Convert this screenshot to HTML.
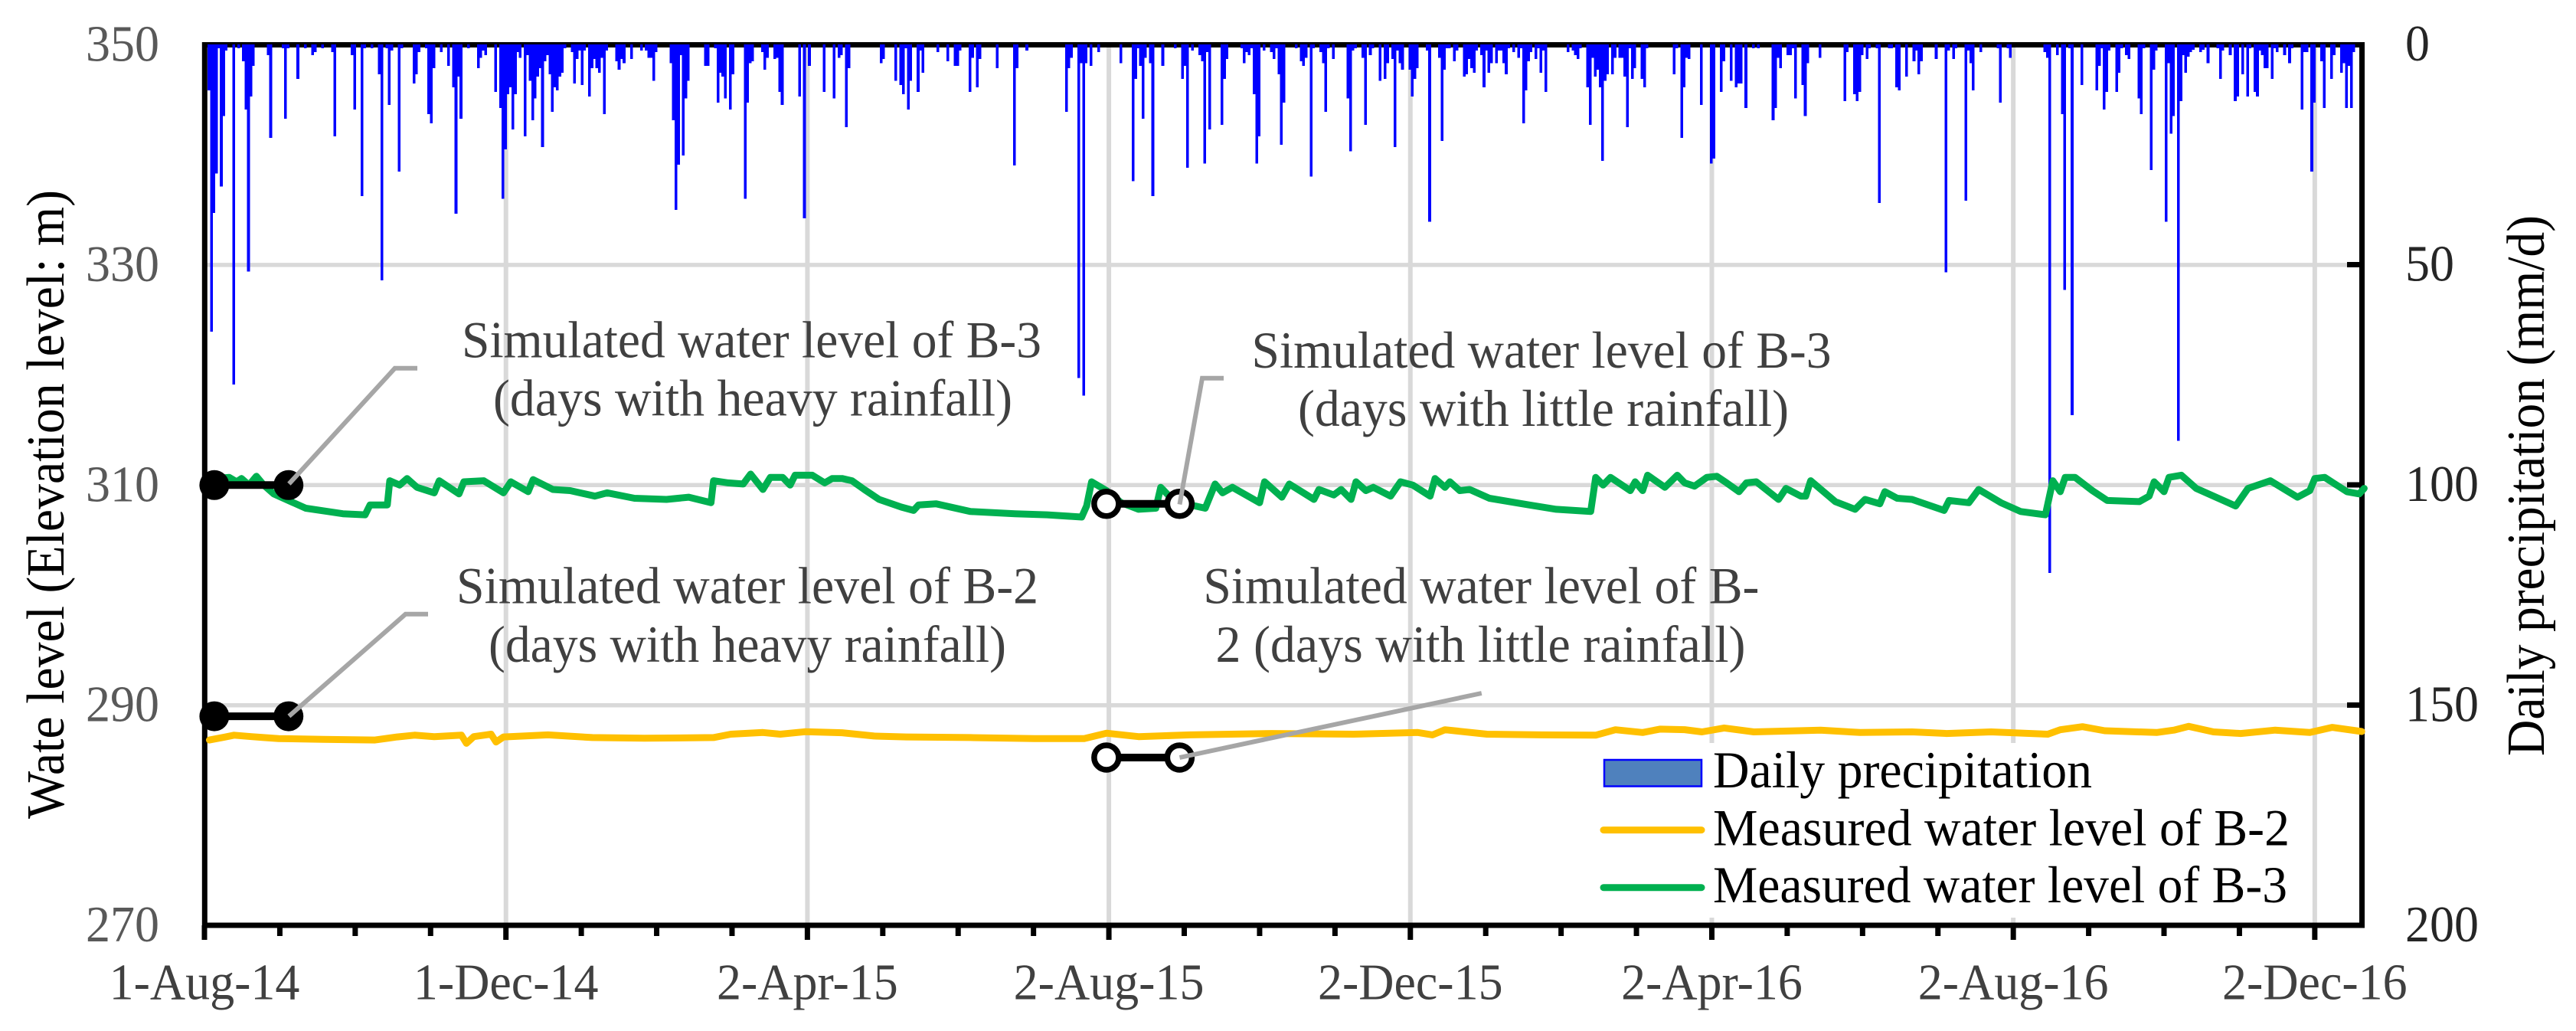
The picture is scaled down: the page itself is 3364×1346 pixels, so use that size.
<!DOCTYPE html>
<html lang="en">
<head>
<meta charset="utf-8">
<title>Water level and daily precipitation</title>
<style>
html,body{margin:0;padding:0;background:#fff;}
svg{display:block;}
text{font-family:"Liberation Serif",serif;}
</style>
</head>
<body>
<svg id="chart" xmlns="http://www.w3.org/2000/svg" width="3364" height="1346" viewBox="0 0 3364 1346">
  <rect x="0" y="0" width="3364" height="1346" fill="#ffffff"/>
  <g id="grid"></g>
  <rect x="2080" y="970" width="935" height="228" fill="#ffffff"/>
  <g id="axes"></g>
  <g id="bars" shape-rendering="crispEdges"></g>
  <g id="lines"></g>
  <g id="markers"></g>
  <g fill="none" stroke="#A6A6A6" stroke-width="6">
    <polyline points="377.4,631.7 515.6,480.8 545,480.8"/>
    <polyline points="377.4,935 529.6,801.8 559,801.8"/>
    <polyline points="1540.5,658.5 1570,493.7 1598,493.7"/>
    <polyline points="1540.5,989 1934.8,905"/>
  </g>
  <g font-size="67.5" fill="#404040">
    <text x="603" y="466.5" textLength="757" lengthAdjust="spacingAndGlyphs">Simulated water level of B-3</text>
    <text x="644" y="542.5" textLength="678" lengthAdjust="spacingAndGlyphs">(days with heavy rainfall)</text>
    <text x="1634.5" y="480" textLength="757" lengthAdjust="spacingAndGlyphs">Simulated water level of B-3</text>
    <text x="1695" y="556" textLength="641" lengthAdjust="spacingAndGlyphs">(days with little rainfall)</text>
    <text x="596" y="787.5" textLength="760" lengthAdjust="spacingAndGlyphs">Simulated water level of B-2</text>
    <text x="638" y="864" textLength="676" lengthAdjust="spacingAndGlyphs">(days with heavy rainfall)</text>
    <text x="1571.4" y="787.5" textLength="726" lengthAdjust="spacingAndGlyphs">Simulated water level of B-</text>
    <text x="1587.5" y="864" textLength="692" lengthAdjust="spacingAndGlyphs">2 (days with little rainfall)</text>
  </g>
  <g font-size="67.5" fill="#000000">
    <rect x="2095" y="992" width="127" height="34.5" fill="#4F81BD" stroke="#0000FF" stroke-width="2.5"/>
    <line x1="2094" y1="1083.6" x2="2222" y2="1083.6" stroke="#FFC000" stroke-width="9" stroke-linecap="round"/>
    <line x1="2094" y1="1158.7" x2="2222" y2="1158.7" stroke="#00B050" stroke-width="9" stroke-linecap="round"/>
    <text x="2237" y="1028" textLength="495" lengthAdjust="spacingAndGlyphs">Daily precipitation</text>
    <text x="2237" y="1103.6" textLength="753" lengthAdjust="spacingAndGlyphs">Measured water level of B-2</text>
    <text x="2237" y="1178" textLength="750" lengthAdjust="spacingAndGlyphs">Measured water level of B-3</text>
  </g>
  <text transform="translate(83,1069) rotate(-90)" font-size="70" fill="#000000" textLength="821" lengthAdjust="spacingAndGlyphs">Wate level (Elevation level: m)</text>
  <text transform="translate(3322,987) rotate(-90)" font-size="70" fill="#000000" textLength="706" lengthAdjust="spacingAndGlyphs">Daily precipitation (mm/d)</text>
  <g id="ticklabels" font-size="66.5"></g>
</svg>
<script>
// ---- chart data ----
var xTickLabels = ["1-Aug-14","1-Dec-14","2-Apr-15","2-Aug-15","2-Dec-15","2-Apr-16","2-Aug-16","2-Dec-16"];
var levelTicks = [350,330,310,290,270];
var rainTicks = [0,50,100,150,200];

// day index since 1-Aug-14 of every rainy day
var rainDays = [
1,2,3,4,5,6,7,8,11,13,15,16,17,18,19,25,26,31,32,33,37,40,43,44,47,51,52,59,60,63,64,67,70,71,73,74,75,78,79,84,85,86,89,90,91,92,95,98,100,101,102,103,106,110,111,112,113,117,119,120,121,122,123,124,125,126,127,129,130,131,132,133,134,135,136,137,138,139,140,141,142,143,144,
145,148,149,150,151,152,153,155,156,157,158,159,160,161,162,166,167,168,169,172,176,178,179,180,181,182,188,189,190,191,192,193,194,195,202,203,206,207,208,209,210,212,213,218,219,220,221,225,226,227,230,231,232,233,240,242,244,250,254,256,257,259,260,273,274,279,281,282,283,284,285,288,289,290,
296,300,303,304,305,309,310,312,313,320,327,328,332,348,349,350,353,354,355,356,358,361,370,375,376,377,378,379,380,382,383,387,392,395,396,397,399,402,403,404,405,406,411,412,413,419,420,421,422,423,424,425,426,428,431,432,433,434,435,436,
441,443,444,445,447,448,451,452,453,454,456,462,463,464,465,468,469,471,472,475,477,478,480,481,482,483,484,487,488,489,490,494,495,499,500,501,502,503,505,506,509,510,511,512,513,514,516,517,518,519,520,522,523,524,525,526,527,529,531,532,533,534,535,536,538,539,540,541,542,551,553,554,555,556,559,560,561,562,563,564,565,566,567,569,570,572,573,574,575,576,577,578,581,
582,583,594,595,597,598,599,600,605,609,610,613,614,617,619,620,621,623,626,628,634,635,636,637,640,641,642,643,646,647,648,653,663,664,667,668,669,670,672,673,676,677,681,682,684,685,688,691,692,693,694,700,704,705,707,708,712,713,714,715,718,725,726,
729,730,744,745,746,749,751,752,754,755,759,765,766,767,768,769,770,773,774,775,777,778,782,783,784,787,788,789,793,794,795,796,798,799,800,801,802,803,804,807,808,810,814,815,816,819,821,822,824,826,827,829,830,831,832,833,834,836,837,838,841,843,844,848,849,850,852,853,856,857,860,861,864,865,866,867,868,869
];
// daily precipitation (mm/d), same order as rainDays
var rainMm = [
10.4,65.2,38.3,29.3,0.9,32.3,16.3,1.4,77.2,0.9,3.8,14.8,51.6,11.8,4.9,2.4,21.2,0.9,16.9,0.9,7.8,0.9,2.4,1.7,0.9,1.7,20.9,2.4,14.8,34.4,0.9,0.9,6.8,53.6,0.9,13.7,1.4,28.9,0.9,8.9,6.8,1.7,0.9,15.8,17.9,5.4,1.7,4.9,9.7,38.4,7.3,16.9,0.9,5.4,3,1.4,2.4,10.8,14.4,35,23.8,11.3,9.7,19.3,11.3,1.7,3,20.9,2.4,8.3,17.2,12.3,7.3,5.4,23.3,3.8,2.4,6.8,15.3,9.7,10.4,7.3,6.4,
0.9,1.7,8.9,3.3,1.4,9.2,1.4,11.8,5.4,3.3,5.4,6.4,3,15.8,1.4,3.8,5.7,3.3,4.3,3.3,1.4,1.4,3,3,8.3,1.7,4.3,17.2,37.6,27.3,2.4,25.2,12.3,8.3,4.9,4.9,0.9,13.2,6.4,7.3,12.3,14.8,6.8,35,13.2,4.3,3.8,1.7,5.7,3,3.3,3,10.8,13.7,11.8,39.5,4.9,10.8,12.3,3,2.4,18.8,5.4,4.3,3.3,8.3,9.2,11.3,0.9,14.8,8.3,10.8,1.4,6.4,
1.7,3.8,4.9,4.9,1.4,10.8,3,9.7,3.3,5.4,27.5,5.4,1.4,15.3,5.4,3,75.7,4.3,79.7,4.3,4.9,1.7,4.3,31,7.8,0.9,4.9,16.9,3,4.3,34.4,4.9,0.9,7.8,4.9,28,1.4,2.4,3.8,27,1.7,19.3,18.3,7.8,3.3,0.9,4.3,1.7,2.4,0.9,11.3,27,20.9,1.4,1.7,3.3,0.9,6.8,22.8,13.2,
0.9,3.8,4.9,3,30,0.9,1.7,4.3,15.3,0.9,3.3,12.3,24.3,1.4,0.9,3,18.3,2.4,0.9,8.3,7.8,4.3,3.3,23.3,1.4,4.3,5.7,5.7,11.8,7.8,5.4,1.4,40.3,3,21.9,5.7,0.9,0.9,3.8,1.4,7.3,6.8,3.3,5.4,6.4,1.4,2.4,9.7,1.4,6.4,4.3,4.3,1.4,1.4,4.3,6.8,0.9,1.7,3,0.9,17.9,10.4,3.8,1.7,3.3,0.9,6.4,1.4,10.8,1.7,1.4,2.4,3.3,0.9,9.7,18.3,3,7.3,5.7,9.7,26.4,8.3,6.8,6.8,3,3,3,7.3,18.8,0.9,7.8,5.4,7.8,
9.7,0.9,6.8,0.9,21.2,9.7,3,3.3,13.7,27,25.9,10.8,3.8,8.3,9.7,8.9,8.9,14.4,0.9,0.9,17.2,14.4,3,5.4,2.4,2.4,0.9,12.3,9.2,16.3,4.3,3,12.9,1.7,11.3,12.9,10.8,2.4,3.3,0.9,0.9,36,0.9,0.9,9.7,10.4,7.3,3.8,1.4,6.8,3.8,3.3,51.7,1.4,3.3,0.9,35.5,1.4,4.3,10.4,1.7,0.9,13.2,
0.9,3,1.7,3,120,2.4,15.8,55.7,0.9,84.2,9.2,10.4,4.9,0.9,14.8,10.8,1.4,10.8,6.4,0.9,2.4,3.3,12.3,15.8,0.9,28.5,5.7,1.4,40.3,4.3,20.3,16.3,90,12.9,2.4,6.4,2.8,1.7,1.2,1.7,1.2,4.3,0.9,7.8,1.4,2.4,12.9,11.8,6.8,11.8,0.9,10.8,11.8,1.4,2.4,5.4,5.4,7.8,0.9,1.7,2.4,4.3,0.9,14.8,1.7,1.7,28.9,13.2,3.8,14.4,7.8,2.4,6.4,4.3,14.4,4.9,14.4,1.7
];

var b3Days = [2,4,10,13,15,18,21,24,28,35,41,50,56,65,67,74,75,79,82,86,93,95,103,105,113,121,124,131,133,141,148,158,163,174,187,196,205,206,212,218,221,226,229,234,237,239,246,251,254,258,262,267,273,282,287,289,296,310,328,341,355,357,359,365,371,378,385,387,393,399,405,409,412,416,427,429,436,439,449,451,457,460,464,466,470,473,480,484,489,496,498,502,504,508,512,520,536,547,561,563,566,569,577,579,582,584,591,596,599,603,608,612,616,621,624,628,637,640,646,648,650,660,668,672,678,680,685,691,704,706,714,718,727,735,745,748,751,753,757,764,770,783,787,789,793,795,800,806,822,827,836,847,852,854,858,867,872,874];
var b3Level = [310.5,310.6,310.7,310.3,310.6,310.0,310.8,310.0,309.2,308.5,307.9,307.6,307.4,307.3,308.2,308.2,310.4,310.0,310.6,309.8,309.3,310.4,309.2,310.3,310.4,309.3,310.3,309.4,310.5,309.6,309.5,309.0,309.3,308.8,308.7,308.9,308.4,310.4,310.2,310.1,311.0,309.6,310.7,310.7,310.0,310.9,310.9,310.2,310.6,310.6,310.4,309.6,308.7,308.0,307.7,308.2,308.3,307.6,307.4,307.3,307.1,308.1,310.3,309.5,308.4,307.8,307.9,309.8,308.4,308.2,307.9,310.1,309.3,309.8,308.4,310.3,308.9,310.1,308.7,309.6,309.1,309.6,308.7,310.3,309.5,309.8,309.0,310.3,310.0,309.0,310.6,309.8,310.3,309.5,309.6,308.8,308.2,307.8,307.6,310.7,310.0,310.7,309.5,310.3,309.5,310.9,309.8,310.9,310.2,309.9,310.7,310.8,310.2,309.4,310.2,310.3,308.7,309.7,309.0,309.0,310.4,308.5,307.8,308.7,308.3,309.4,308.8,308.7,307.7,308.6,308.4,309.6,308.4,307.6,307.3,310.4,309.4,310.7,310.7,309.5,308.6,308.5,309.0,310.3,309.4,310.7,310.9,309.7,308.1,309.7,310.4,308.9,309.5,310.6,310.7,309.4,309.2,309.7];

var b2Days = [2,8,12,19,24,30,48,69,78,85,93,104,106,109,116,118,121,139,157,178,206,213,226,233,243,258,271,284,310,336,356,365,378,399,432,465,491,497,502,519,541,563,571,582,589,599,606,615,627,654,670,691,705,723,746,751,760,769,790,797,803,813,824,838,852,861,873];
var b2Level = [286.84,287.1,287.28,287.15,287.06,286.97,286.9,286.84,287.12,287.28,287.15,287.28,286.54,287.15,287.37,286.66,287.12,287.31,287.06,287.0,287.06,287.37,287.52,287.37,287.59,287.5,287.2,287.12,287.06,286.97,286.97,287.46,287.15,287.31,287.43,287.37,287.52,287.31,287.77,287.37,287.31,287.28,287.77,287.52,287.83,287.78,287.58,287.93,287.58,287.74,287.52,287.58,287.43,287.58,287.37,287.77,288.05,287.68,287.52,287.74,288.08,287.58,287.43,287.74,287.52,287.99,287.61];

var heavyDays = [4,34];
var littleDays = [365,394.6];
var heavyB3Level = 310;
var heavyB2Level = 289;
var littleB3Level = 308.3;
var littleB2Level = 285.25;

// ---- axis functions ----
var NS = "http://www.w3.org/2000/svg";
function xDay(d){ return 267 + 3.227 * d; }
function yLevel(v){ return 58.5 + (350 - v) * 14.37; }
function yRain(v){ return 58 + v * 5.75; }
function make(tag, parent, props){
  var el = document.createElementNS(NS, tag);
  for (var k in props){ el.setAttribute(k, props[k]); }
  parent.appendChild(el);
  return el;
}
function narrow(t){
  var len = t.getComputedTextLength();
  t.setAttribute('textLength', (len * 0.962).toFixed(1));
  t.setAttribute('lengthAdjust', 'spacingAndGlyphs');
}

var grid = document.getElementById("grid");
var axes = document.getElementById("axes");
var barsG = document.getElementById("bars");
var linesG = document.getElementById("lines");
var markersG = document.getElementById("markers");
var labelsG = document.getElementById("ticklabels");

// gridlines
levelTicks.forEach(function(v){
  if (v === 350 || v === 270) return;
  var el = make("line", grid, {x1:267, x2:3085, y1:yLevel(v), y2:yLevel(v), stroke:"#D9D9D9", "stroke-width":5.5});
  
  
});
xTickLabels.forEach(function(t, i){
  if (i === 0) return;
  var px = xDay(i * 122);
  var el = make("line", grid, {x1:px, x2:px, y1:58, y2:1208, stroke:"#D9D9D9", "stroke-width":6});
  
  
});

// axes
var spineProps = [
  {x1:267.3, y1:55, x2:267.3, y2:1211},
  {x1:3084.5, y1:55, x2:3084.5, y2:1211},
  {x1:264, y1:58.5, x2:3088, y2:58.5},
  {x1:264, y1:1208, x2:3088, y2:1208}
];
spineProps.forEach(function(p){
  p.stroke = "#000"; p["stroke-width"] = 7;
  var el = make("line", axes, p);
  
  
});
for (var k = 0; k <= 28; k++){
  var tx = xDay(k * 30.5);
  var isMajor = k % 4 === 0;
  var tick = make("line", axes, {x1:tx, x2:tx, y1:1208, y2:isMajor ? 1227 : 1222, stroke:"#000", "stroke-width":7});
  
  
}
rainTicks.forEach(function(v){
  if (v === 0 || v === 200) return;
  var rt = make("line", axes, {x1:3065, x2:3084, y1:yRain(v), y2:yRain(v), stroke:"#000", "stroke-width":7});
  
  
});

// bars
rainDays.forEach(function(d, i){
  var mm = rainMm[i];
  var bar = make("rect", barsG, {x:(xDay(d) + 2.6 - 1.8).toFixed(2), y:58, width:3.6, height:(yRain(mm) - 58).toFixed(2), fill:"#0000FF"});
  
  
});

// measured lines
function linePoints(days, levels){
  return days.map(function(d, i){ return xDay(d).toFixed(1) + "," + yLevel(levels[i]).toFixed(1); }).join(" ");
}
var b2Line = make("polyline", linesG, {points:linePoints(b2Days, b2Level), fill:"none", stroke:"#FFC000", "stroke-width":9, "stroke-linejoin":"round", "stroke-linecap":"round"});


var b3Line = make("polyline", linesG, {points:linePoints(b3Days, b3Level), fill:"none", stroke:"#00B050", "stroke-width":9, "stroke-linejoin":"round", "stroke-linecap":"round"});



// simulated-level dumbbell markers
function dumbbell(days, level, filled, name){
  var py = yLevel(level);
  var bar = make("line", markersG, {x1:xDay(days[0]), x2:xDay(days[1]), y1:py, y2:py, stroke:"#000", "stroke-width":10});
  
  
  days.forEach(function(d){
    var r = filled ? 19.5 : 16;
    var c = make("circle", markersG, {cx:xDay(d), cy:py, r:r, fill:filled ? "#000" : "#fff", stroke:"#000", "stroke-width":filled ? 0 : 7.5});
    
    
  });
}
dumbbell(heavyDays, heavyB3Level, true, 'simulated-b3-heavy');
dumbbell(heavyDays, heavyB2Level, true, 'simulated-b2-heavy');
dumbbell(littleDays, littleB3Level, false, 'simulated-b3-little');
dumbbell(littleDays, littleB2Level, false, 'simulated-b2-little');

// tick labels
levelTicks.forEach(function(v){
  var t = make("text", labelsG, {x:208, y:yLevel(v) + 21, "text-anchor":"end", fill:"#595959"});
  t.textContent = v;
  
  
  narrow(t);
});
rainTicks.forEach(function(v){
  var t = make("text", labelsG, {x:3141, y:yRain(v) + 21, "text-anchor":"start", fill:"#262626"});
  t.textContent = v;
  
  
  narrow(t);
});
xTickLabels.forEach(function(label, i){
  var t = make("text", labelsG, {x:xDay(i * 122), y:1304.7, "text-anchor":"middle", fill:"#404040"});
  t.textContent = label;
  
  
  narrow(t);
});
</script>
</body>
</html>
